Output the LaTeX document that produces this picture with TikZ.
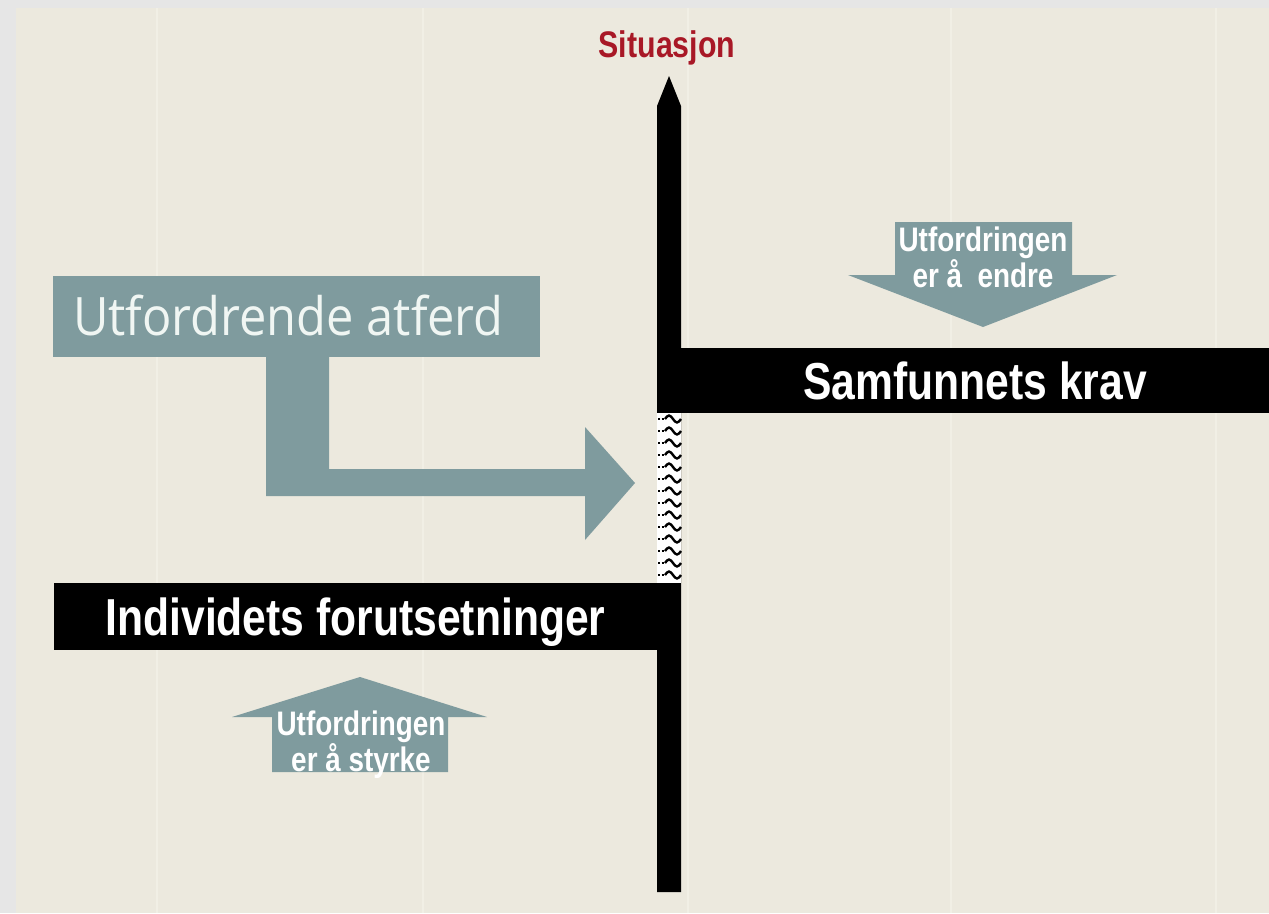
\documentclass[tikz,border=0pt]{standalone}
\usepackage{fontspec}
\usepackage{xcolor}
\usepackage{tikz}
\newfontfamily\condfont[FakeStretch=0.82]{Liberation Sans}
\newfontfamily\softfont[FakeStretch=0.92]{Open Sans}
\definecolor{papir}{RGB}{236,233,222}
\definecolor{ramme}{RGB}{230,230,230}
\definecolor{skifer}{RGB}{127,155,158}
\definecolor{vinrod}{RGB}{168,24,38}
\definecolor{kritt}{RGB}{240,246,243}
\definecolor{lysstripe}{RGB}{241,239,229}

\begin{document}
\begin{tikzpicture}[x=1pt, y=-1pt,
    bar/.style={fill=black, text=white, inner sep=0pt, text height=38pt, text depth=0pt, font=\condfont\bfseries\fontsize{52}{56}\selectfont},
    piltekst/.style={text=white, align=center, inner sep=0pt, font=\condfont\bfseries\fontsize{34}{33}\selectfont}]
        \useasboundingbox (0,0) rectangle (1269,913);
        \fill[ramme] (0,0) rectangle (1269,913);
        \fill[papir] (16,8) rectangle (1269,913);
        \foreach \x in {157,423,688,951,1216}
            \draw[lysstripe, line width=1.5pt] (\x,8) -- (\x,913);

        \node[anchor=base, text=vinrod, inner sep=0pt, font=\condfont\bfseries\fontsize{37}{40}\selectfont] (Situasjon) at (667,57) {Situasjon};
        \node[bar, minimum width=588pt, minimum height=65pt] (Samfunnets-krav) at (975,380.5) {Samfunnets krav};
        \node[bar, minimum width=603pt, minimum height=67pt] (Individets-forutsetninger) at (355.5,616.5) {Individets forutsetninger};
        \node[fill=skifer, text=kritt, inner sep=0pt, minimum width=487pt, minimum height=81pt, text height=38pt, text depth=0pt, font=\softfont\fontsize{53}{58}\selectfont] (Utfordrende-atferd) at (296.5,316.5) {\hspace*{-16pt}Utfordrende atferd};
        \coordinate (Akse-topp) at (669,76);
        \coordinate (Akse-bunn) at (669,892);

        \fill (Akse-bunn) -- (657,892) -- (657,106) -- (Akse-topp) -- (681,106) -- (681,892) -- cycle;
        \fill[white] (657,413) rectangle (681,583);
        \foreach \y in {419,431,...,575} {
            \draw[line width=2.2pt, dash pattern=on 2pt off 1.5pt] (658,\y) -- (664,\y);
            \draw[line width=2.4pt] (665,\y) sin (669,\y-3.5) cos (673,\y) sin (677,\y+3.5) cos (681,\y);
        }

        \fill[skifer] (266,350) -- (329,350) -- (329,469) -- (585,469) -- (585,427) -- (635,483) -- (585,540) -- (585,496) -- (266,496) -- cycle;

        \fill[skifer] (895,222) -- (1072,222) -- (1072,275) -- (1117,275) -- (983,327) -- (848,275) -- (895,275) -- cycle;
        \node[piltekst] (Endre) at (983,257) {Utfordringen\\er å\ \ endre};
        \fill[skifer] (272,772) -- (272,717) -- (232,717) -- (360,677) -- (487,717) -- (448,717) -- (448,772) -- cycle;
        \node[piltekst] (Styrke) at (361,745) {Utfordringen\\er å styrke};
    \end{tikzpicture}
\end{document}
